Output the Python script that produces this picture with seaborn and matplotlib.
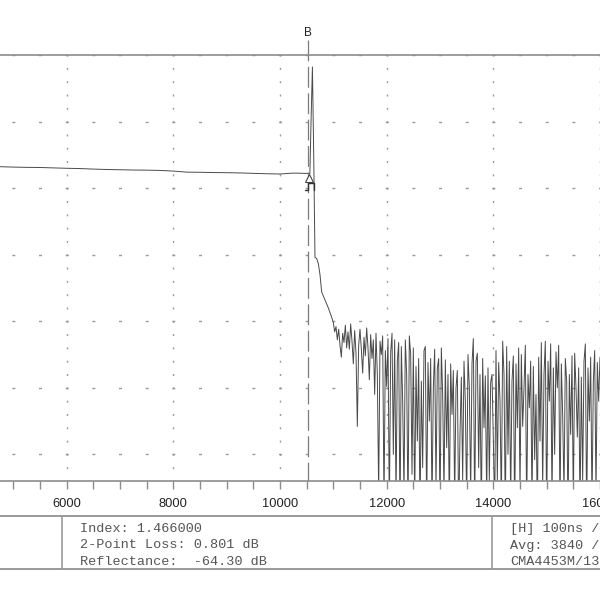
import numpy as np
import pandas as pd
import seaborn as sns
import matplotlib.pyplot as plt
from matplotlib.lines import Line2D
from matplotlib.ticker import MultipleLocator, NullFormatter
from matplotlib.transforms import ScaledTranslation, blended_transform_factory

# fibre backscatter before the event (distance m, level dB)
level_dist = [4750, 5000, 5250, 5500, 5750, 6000, 6250, 6500, 6750, 7000, 7250, 7500,
              7750, 8000, 8250, 8500, 8750, 9000, 9250, 9500, 9750, 10000, 10250, 10500, 10540]
level_db = [26.61, 26.58, 26.56, 26.55, 26.52, 26.49, 26.47, 26.43, 26.40, 26.38, 26.36, 26.35,
            26.33, 26.28, 26.20, 26.19, 26.17, 26.16, 26.14, 26.11, 26.08, 26.06, 26.13, 26.11, 26.10]

# reflective end event
event_dist = [10560, 10585, 10608, 10632, 10656, 10690, 10720, 10750, 10781, 10844, 10906, 10969]
event_db = [26.1, 30.5, 34.1, 27.5, 19.8, 19.7, 19.3, 18.5, 17.2, 16.6, 16.0, 15.3]

# noise after the end, one sample every 25 m from 11000 m
noise_start = 11000
noise_step = 25
noise_db = [
    14.9, 14.2, 14.6, 13.6, 14.4, 13.2, 12.3, 14.1, 13.4, 14.7, 13.0, 14.2, 12.9, 14.8, 13.5, 11.8, 14.3, 12.6, 7.1, 13.2,
    14.4, 12.9, 11.1, 13.8, 12.4, 14.5, 13.0, 10.6, 14.0, 12.2, 13.6, 9.5, 14.1, 11.0, 2.0, 13.5, 12.5, 13.9, 1.0, 12.8,
    10.1, 13.7, 0.5, 12.6, 14.1, 5.0, 13.6, 1.5, 12.0, 13.4, 0.0, 13.1, 9.0, 2.0, 13.6, 11.0, 0.5, 13.9, 12.5, 3.5,
    13.0, 1.0, 11.6, 6.0, 12.2, 0.0, 10.5, 4.0, 12.8, 13.1, 0.5, 11.9, 7.5, 12.2, 1.0, 10.0, 12.9, 2.5, 11.5, 12.2,
    0.0, 13.0, 9.5, 2.0, 12.1, 5.5, 11.0, 0.5, 11.8, 8.0, 11.3, 1.5, 10.0, 11.3, 0.0, 6.5, 10.8, 3.0, 12.0, 9.0,
    1.0, 12.5, 10.0, 2.0, 11.8, 13.7, 0.5, 12.0, 12.6, 4.0, 11.0, 0.0, 12.2, 7.0, 10.9, 1.5, 11.5, 3.0, 10.4, 11.0,
    6.1, 0.5, 12.8, 3.0, 11.9, 9.0, 1.0, 13.5, 11.0, 0.0, 13.1, 5.0, 12.0, 1.5, 10.5, 12.4, 0.0, 11.8, 7.0, 13.0,
    2.0, 12.5, 7.1, 10.0, 13.2, 0.5, 11.0, 8.5, 12.0, 1.0, 11.6, 4.6, 9.5, 0.0, 12.3, 6.0, 13.4, 2.5, 11.0, 13.5,
    0.0, 12.0, 9.0, 13.3, 1.5, 11.5, 5.0, 12.7, 10.0, 13.2, 0.5, 11.8, 8.0, 2.0, 12.2, 10.5, 0.0, 11.0, 6.5, 12.4,
    1.0, 12.6, 10.0, 6.3, 11.5, 0.5, 10.8, 3.0, 12.0, 13.3, 0.0, 11.5, 7.5, 12.3, 1.0, 10.5, 12.8, 2.0, 11.9, 9.0,
    12.3,
]

cursor_b = 10519
x_ticks_step = 2000

info_left = ["Index: 1.466000", "2-Point Loss: 0.801 dB", "Reflectance:  -64.30 dB"]
info_right = ["[H] 100ns /", "Avg: 3840 /", "CMA4453M/13"]

noise_dist = noise_start + noise_step * np.arange(len(noise_db))
trace = pd.DataFrame({
    "dist": np.concatenate([level_dist, event_dist, noise_dist]),
    "db": np.concatenate([level_db, event_db, noise_db]),
})

sns.set_theme(style="white")
plt.rcParams['font.family'] = ['Liberation Sans', 'DejaVu Sans']
plt.rcParams['lines.scale_dashes'] = False

fig = plt.figure(figsize=(6, 6), dpi=100)
ax = fig.add_axes([0.0, 1 - 481 / 600, 1.0, 426 / 600])

sns.lineplot(data=trace, x="dist", y="db", estimator=None, sort=False,
             color="#4a4a4a", lw=0.7, ax=ax)

ax.set_xlim(4750, 16000)
ax.set_ylim(3, 35)
ax.set_xlabel("")
ax.set_ylabel("")

ax.xaxis.set_major_locator(MultipleLocator(x_ticks_step))
ax.xaxis.set_minor_locator(MultipleLocator(500))
ax.xaxis.set_minor_formatter(NullFormatter())
ax.yaxis.set_major_locator(MultipleLocator(5))
ax.set_yticklabels([])
ax.tick_params(axis='y', length=0)
ax.tick_params(axis='x', which='both', bottom=True, direction='out', length=5.5, width=1,
               color='#8c8c8c', labelsize=9.3, labelcolor='#222222', pad=7)

# dotted grid: marks every 1 dB on vertical lines, every 500 m on horizontal ones
px = 0.72
ax.grid(axis='x', which='major', color='#9a9a9a', lw=1,
        linestyle=(1.0 * px, (2 * px, 11.31 * px)))
ax.grid(axis='y', which='major', color='#9a9a9a', lw=1,
        linestyle=(14.83 * px, (3 * px, 23.67 * px)))

for side in ['left', 'right']:
    ax.spines[side].set_visible(False)
for side in ['top', 'bottom']:
    ax.spines[side].set_color('#8c8c8c')
    ax.spines[side].set_linewidth(1.2)

# cursor B
bt = blended_transform_factory(ax.transData, ax.transAxes)
ax.plot([cursor_b, cursor_b], [1.035, 0], transform=bt, clip_on=False,
        color='#7a7a7a', lw=0.9, dashes=(15, 4))
ax.text(cursor_b, 1.052, "B", transform=bt, ha='center', va='center',
        fontsize=8.5, color='#222222')

y_b = np.interp(cursor_b, trace["dist"], trace["db"])
mt = fig.dpi_scale_trans + ScaledTranslation(cursor_b, y_b, ax.transData)
ax.plot([0.015], [-0.045], transform=mt, marker='^', ms=6, mfc='white',
        mec='#444444', mew=0.8, clip_on=False)
ax.plot([-0.025, 0.0, 0.0, 0.06, 0.06], [-0.165, -0.165, -0.095, -0.095, -0.165],
        transform=mt, color='#333333', lw=1.0, clip_on=False)

# info panel
for yy in [1 - 515.7 / 600, 1 - 569 / 600]:
    fig.add_artist(Line2D([0, 1], [yy, yy], transform=fig.transFigure, color='#9a9a9a', lw=1.4))
for xx in [61.7 / 600, 492 / 600]:
    fig.add_artist(Line2D([xx, xx], [1 - 515.7 / 600, 1 - 569 / 600], transform=fig.transFigure,
                          color='#9a9a9a', lw=1.2))
rows_y = [1 - 532 / 600, 1 - 548.5 / 600, 1 - 565 / 600]
for txt, yy in zip(info_left, rows_y):
    fig.text(80 / 600, yy, txt, family='Liberation Mono', fontsize=9.7, color='#555555', va='baseline')
for txt, yy in zip(info_right, rows_y):
    fig.text(510 / 600, yy, txt, family='Liberation Mono', fontsize=9.7, color='#555555', va='baseline')

fig.savefig("out.png", dpi=100, facecolor='white')
